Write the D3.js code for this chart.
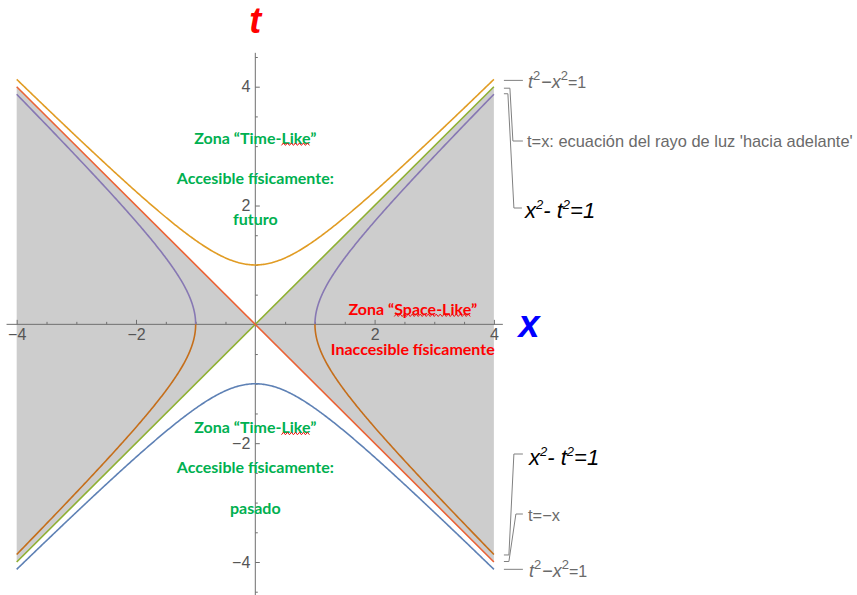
<!DOCTYPE html>
<html>
<head>
<meta charset="utf-8">
<script src="https://cdn.jsdelivr.net/npm/d3@7"></script>
<style>
  html, body { margin: 0; padding: 0; background: #fff; }
  svg { display: block; }
</style>
</head>
<body>
<svg id="chart" width="857" height="595"></svg>
<script>
// Spacetime diagram: hyperbolas t²−x²=1 and x²−t²=1 with the light lines t=±x.
const xDomain = [-4, 4];
const timeLikeSigns = [-1, 1];          // t = ±√(1+x²)
const lightSlopes = [1, -1];            // t = ±x
const spaceLikeSigns = [1, -1];         // t = ±√(x²−1)
const majorTicks = [-4, -2, 2, 4];
const xMinorTicks = [-3.5, -3, -2.5, -1.5, -1, -0.5, 0.5, 1, 1.5, 2.5, 3, 3.5];
const tMinorTicks = [-4.5, -3.5, -3, -2.5, -1.5, -1, -0.5, 0.5, 1, 1.5, 2.5, 3, 3.5, 4.5];
const xAxisExtent = [-4.17, 4.15];
const tAxisExtent = [-4.6, 4.57];

const timeLikeColors = ["#5E81B5", "#E19C24"];
const lightColors = ["#8FB032", "#EB6235"];
const spaceLikeColors = ["#8778B3", "#C56E1A"];

const futureLabels = ["Zona \u201CTime-Like\u201D", "Accesible f\u00EDsicamente:", "futuro"];
const pastLabels = ["Zona \u201CTime-Like\u201D", "Accesible f\u00EDsicamente:", "pasado"];
const spaceLabels = ["Zona \u201CSpace-Like\u201D", "Inaccesible f\u00EDsicamente"];
const lightLabelFwd = "t=x: ecuaci\u00F3n del rayo de luz 'hacia adelante'";
const lightLabelBack = "t=\u2212x";

const svg = d3.select("#chart");
const x = d3.scaleLinear().domain([-4, 4]).range([16.7, 493.9]);
const y = d3.scaleLinear().domain([-4, 4]).range([562.0, 86.7]);

const line = d3.line().x(d => x(d[0])).y(d => y(d[1]));
const xs = d3.range(xDomain[0], xDomain[1] + 1e-9, 0.02);

// grey space-like wedges between the light lines
const wedge = svg.append("g");
[xDomain[0], xDomain[1]].forEach(xe => {
  wedge.append("path")
    .attr("d", line([[xe, xe], [0, 0], [xe, -xe]]) + "Z")
    .attr("fill", "#cdcdcd");
});

// axes
const axisColor = "#6f6f6f";
const axes = svg.append("g");
axes.append("line")
  .attr("x1", x(xAxisExtent[0])).attr("x2", x(xAxisExtent[1]))
  .attr("y1", y(0)).attr("y2", y(0))
  .attr("stroke", axisColor).attr("stroke-width", 1);
axes.append("line")
  .attr("x1", x(0)).attr("x2", x(0))
  .attr("y1", y(tAxisExtent[0])).attr("y2", y(tAxisExtent[1]))
  .attr("stroke", axisColor).attr("stroke-width", 1);

function styleAxis(g) {
  g.select(".domain").remove();
  g.selectAll("line").attr("stroke", axisColor);
  g.selectAll("text")
    .attr("fill", "#555")
    .style("font-family", "'Liberation Sans', Arial, sans-serif")
    .style("font-size", "16px");
}

const noLabel = () => "";
const signed = d => d < 0 ? "\u2212" + Math.abs(d) : String(d);
axes.append("g").attr("transform", `translate(0,${y(0)})`)
  .call(d3.axisBottom(x).tickValues(xMinorTicks).tickSize(-2.5).tickFormat(noLabel))
  .call(styleAxis);
axes.append("g").attr("transform", `translate(0,${y(0)})`)
  .call(d3.axisBottom(x).tickValues(majorTicks).tickSize(-4.5).tickPadding(4).tickFormat(signed))
  .call(styleAxis);
axes.append("g").attr("transform", `translate(${x(0)},0)`)
  .call(d3.axisLeft(y).tickValues(tMinorTicks).tickSize(-2.5).tickFormat(noLabel))
  .call(styleAxis);
axes.append("g").attr("transform", `translate(${x(0)},0)`)
  .call(d3.axisLeft(y).tickValues(majorTicks).tickSize(-4.5).tickPadding(5).tickFormat(signed))
  .call(styleAxis);

// curves
const curves = svg.append("g").attr("fill", "none").attr("stroke-width", 1.6);
timeLikeSigns.forEach((s, i) => {
  curves.append("path")
    .attr("d", line(xs.map(v => [v, s * Math.sqrt(1 + v * v)])))
    .attr("stroke", timeLikeColors[i]);
});
lightSlopes.forEach((m, i) => {
  curves.append("path")
    .attr("d", line([[xDomain[0], m * xDomain[0]], [xDomain[1], m * xDomain[1]]]))
    .attr("stroke", lightColors[i]);
});
const uMax = Math.acosh(xDomain[1]);
const us = d3.range(0, uMax + 1e-9, uMax / 200);
spaceLikeSigns.forEach((s, i) => {
  [-1, 1].forEach(side => {
    curves.append("path")
      .attr("d", line(us.map(u => [side * Math.cosh(u), s * Math.sinh(u)])))
      .attr("stroke", spaceLikeColors[i]);
  });
});

// axis titles
svg.append("text").text("t")
  .attr("x", x(0)).attr("y", 33).attr("text-anchor", "middle")
  .attr("fill", "#ff0000")
  .style("font", "italic bold 36px 'Liberation Sans', Arial, sans-serif");
svg.append("text").text("x")
  .attr("x", 529).attr("y", 337).attr("text-anchor", "middle")
  .attr("fill", "#0000ff")
  .style("font", "italic bold 38px 'Liberation Sans', Arial, sans-serif");

// zone annotations
const zoneFont = "bold 16px Lato, 'Open Sans', sans-serif";
function squiggle(g, x0, x1, yy) {
  const pts = [];
  for (let px = x0, k = 0; px <= x1; px += 2, k++) pts.push([px, yy + (k % 2 ? -1.2 : 1.2)]);
  g.append("path").attr("d", d3.line()(pts))
    .attr("fill", "none").attr("stroke", "#ee1111").attr("stroke-width", 1);
}
function zoneBlock(labels, cx, ts, color, wordToMark) {
  const g = svg.append("g");
  labels.forEach((lab, i) => {
    const t = g.append("text").text(lab)
      .attr("x", x(cx)).attr("y", y(ts[i]))
      .attr("text-anchor", "middle").attr("dominant-baseline", "central")
      .attr("fill", color).style("font", zoneFont);
    if (i === 0) {
      // spell-check style underline under the English word
      const node = t.node();
      const full = node.getComputedTextLength();
      const idx = lab.indexOf(wordToMark);
      const start = node.getSubStringLength(0, idx);
      const len = node.getSubStringLength(idx, wordToMark.length);
      const left = x(cx) - full / 2 + start;
      squiggle(g, left, left + len, y(ts[i]) + 7);
    }
  });
}
zoneBlock(futureLabels, 0, [3.15, 2.48, 1.79], "#00b050", "Like");
zoneBlock(pastLabels, 0, [-1.72, -2.40, -3.09], "#00b050", "Like");
zoneBlock(spaceLabels, 2.64, [0.27, -0.40], "#ff0000", "Space-Like");

// callout leaders and equation labels on the right
const leaderColor = "#808080";
const callouts = svg.append("g").attr("fill", "none").attr("stroke", leaderColor).attr("stroke-width", 1);
const xe = x(xDomain[1]) + 10;
const endT = { up: Math.sqrt(1 + 16), light: 4, space: Math.sqrt(15) };
const lead = d3.line();
callouts.append("path").attr("d", lead([[xe, y(endT.up) + 1], [xe + 19, y(endT.up) + 1]]));
callouts.append("path").attr("d", lead([[xe, y(endT.light) + 1.5], [xe + 6, y(endT.light) + 1.5], [xe + 9, 141], [xe + 19, 141]]));
callouts.append("path").attr("d", lead([[xe, y(endT.space) - 0.5], [xe + 4, y(endT.space) - 0.5], [xe + 10, 208], [xe + 18, 208]]));
callouts.append("path").attr("d", lead([[xe, y(-endT.space) + 0.5], [xe + 5, y(-endT.space) + 0.5], [xe + 10, 454], [xe + 19, 454]]));
callouts.append("path").attr("d", lead([[xe, y(-endT.light) - 0.5], [xe + 5, y(-endT.light) - 0.5], [xe + 12, 514], [xe + 19, 514]]));
callouts.append("path").attr("d", lead([[xe, y(-endT.up)], [xe + 19, y(-endT.up)]]));

const greyFont = "'Liberation Sans', Arial, sans-serif";
function greyEquation(px, py) {
  const t = svg.append("text").attr("x", px).attr("y", py)
    .attr("fill", "#6a6a6a").style("font-family", greyFont).style("font-size", "18px");
  t.append("tspan").text("t").style("font-style", "italic");
  t.append("tspan").text("2").attr("dy", -8).style("font-size", "13px");
  t.append("tspan").text("\u2212").attr("dy", 8).attr("dx", 1);
  t.append("tspan").text("x").style("font-style", "italic");
  t.append("tspan").text("2").attr("dy", -8).style("font-size", "13px");
  t.append("tspan").text("=1").attr("dy", 8).style("font-size", "16px");
}
function blackEquation(px, py) {
  const t = svg.append("text").attr("x", px).attr("y", py)
    .attr("fill", "#000").style("font-family", greyFont).style("font-size", "22px")
    .style("font-style", "italic");
  t.append("tspan").text("x");
  t.append("tspan").text("2").attr("dy", -9).style("font-size", "13px");
  t.append("tspan").text("- t").attr("dy", 9);
  t.append("tspan").text("2").attr("dy", -9).style("font-size", "13px");
  t.append("tspan").text("=1").attr("dy", 9);
}
greyEquation(528, 88);
svg.append("text").text(lightLabelFwd).attr("x", 527).attr("y", 141)
  .attr("dominant-baseline", "central").attr("fill", "#6a6a6a")
  .style("font-family", greyFont).style("font-size", "16.4px");
blackEquation(525, 218);
blackEquation(529, 465);
svg.append("text").text(lightLabelBack).attr("x", 528).attr("y", 515)
  .attr("dominant-baseline", "central").attr("fill", "#6a6a6a")
  .style("font-family", greyFont).style("font-size", "16.4px");
greyEquation(529, 577);
</script>
</body>
</html>
